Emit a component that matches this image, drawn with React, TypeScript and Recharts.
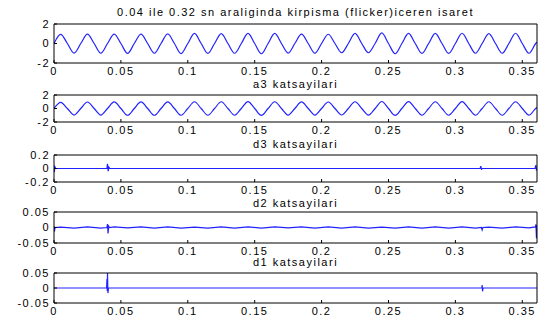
import { LineChart, Line, XAxis, YAxis } from 'recharts'

const FONT = '"Liberation Sans", Arial, sans-serif'
const BLUE = '#2222ff'
const W = 545
const H = 323
const PLOT_LEFT = 54
const PLOT_RIGHT = 537
const XAXIS_H = 22

// time axis (seconds)
const X_TICKS = [0, 0.05, 0.1, 0.15, 0.2, 0.25, 0.3, 0.35]
const X_MAX = 0.361
const PERIOD = 0.02 // 50 Hz carrier

// one peak + one trough per cycle
const SIG_PEAKS   = [0.93, 0.97, 0.97, 0.97, 0.98, 1.03, 1.02, 1.03, 1.03, 0.97, 0.95, 1.03, 1.08, 1.03, 1.03, 1.05, 1.02, 1.05]
const SIG_TROUGHS = [-0.98, -1.0, -1.02, -1.0, -1.03, -1.02, -1.0, -1.05, -0.98, -1.0, -0.95, -0.95, -1.05, -1.02, -1.02, -1.0, -1.0, -1.0]
const A3_PEAKS    = [0.92, 0.96, 0.97, 0.97, 0.98, 1.0, 1.0, 1.02, 1.0, 0.97, 0.96, 1.0, 1.04, 1.02, 1.0, 1.02, 1.0, 1.0]
const A3_TROUGHS  = [-0.97, -0.98, -1.0, -1.0, -1.0, -1.0, -1.0, -1.02, -0.98, -0.98, -0.96, -0.97, -1.02, -1.0, -1.0, -1.0, -1.0, -0.98]

// detail coefficients: flat line, spikes at the flicker edges (0.04 / 0.32) and the ends
const D3_SPIKES: [number, number][] = [
  [0, 0.05], [0.0003, -0.05], [0.0006, 0.03], [0.0012, 0],
  [0.0395, 0], [0.04, 0.07], [0.0405, -0.04], [0.041, 0.02], [0.0418, 0],
  [0.3185, 0], [0.319, 0.035], [0.3195, -0.01], [0.3202, 0],
  [0.3595, 0], [0.3602, 0.05], [0.3606, -0.03], [0.361, 0.01],
]
const D2_SPIKES: [number, number][] = [
  [0, 0.005], [0.0003, -0.013], [0.0008, 0],
  [0.0395, 0], [0.04, 0.011], [0.0404, -0.019], [0.0409, 0.004], [0.0415, 0],
  [0.3195, 0], [0.32, -0.008], [0.3206, 0],
  [0.3598, 0.002], [0.3602, 0.01], [0.3606, -0.035], [0.361, 0.008],
]
// small 50 Hz wobble in d2, one value per half cycle starting at 0.005
const D2_RIPPLE = [0.001, -0.002, 0.002, -0.002, 0.002, -0.001, 0.002, -0.002, 0.002, -0.002, 0.001, -0.002,
  0.002, -0.002, 0.002, -0.002, 0.002, -0.001, 0.002, -0.002, 0.002, -0.002, 0.002, -0.002,
  0.001, -0.002, 0.002, -0.002, 0.002, -0.002, 0.002, -0.002, 0.001, -0.002, 0.002, -0.001]
const D1_SPIKES: [number, number][] = [
  [0, 0], [0.0393, 0], [0.0396, 0.03], [0.0398, -0.01], [0.04, 0.05], [0.0403, -0.017], [0.0407, 0],
  [0.3198, 0], [0.32, 0.01], [0.3203, -0.011], [0.3207, 0], [0.361, 0],
]

type Row = { t: number; v: number }

function wave(peaks: number[], troughs: number[], tail: number): Row[] {
  const rows: Row[] = []
  peaks.forEach((p, k) => {
    const t0 = k * PERIOD
    rows.push({ t: t0, v: 0 }, { t: t0 + PERIOD / 4, v: p }, { t: t0 + PERIOD / 2, v: 0 }, { t: t0 + (3 * PERIOD) / 4, v: troughs[k] })
  })
  rows.push({ t: peaks.length * PERIOD, v: 0 }, { t: X_MAX, v: tail })
  return rows
}

function pairs(spikes: [number, number][], ripple: number[] = []): Row[] {
  const rows = spikes.map(([t, v]) => ({ t, v }))
  ripple.forEach((v, k) => rows.push({ t: PERIOD / 4 + (k * PERIOD) / 2, v }))
  return rows.sort((a, b) => a.t - b.t)
}

const sigData = wave(SIG_PEAKS, SIG_TROUGHS, 0.15)
const a3Data  = wave(A3_PEAKS, A3_TROUGHS, 0.15)
const d3Data  = pairs(D3_SPIKES)
const d2Data  = pairs(D2_SPIKES, D2_RIPPLE)
const d1Data  = pairs(D1_SPIKES)

// matlab's bitmap font is spread out, hence the letter spacing
const tickStyle = { fill: '#000', fontSize: 11, fontFamily: FONT, letterSpacing: 1.5 }

type PanelProps = {
  data: Row[]
  top: number
  bottom: number
  yTicks: number[]
  title: string
  titleY: number
  smooth?: boolean
}

function Panel({ data, top, bottom, yTicks, title, titleY, smooth }: PanelProps) {
  const yDomain: [number, number] = [yTicks[0], yTicks[yTicks.length - 1]]
  return (
    <>
      <div
        style={{
          position: 'absolute', left: PLOT_LEFT, width: PLOT_RIGHT - PLOT_LEFT, top: titleY - 5.5,
          textAlign: 'center', fontFamily: FONT, fontSize: 11, lineHeight: '11px', letterSpacing: 1.5,
          color: '#000', whiteSpace: 'nowrap',
        }}
      >
        {title}
      </div>
      <div style={{ position: 'absolute', left: 0, top: 0 }}>
        <LineChart
          width={W}
          height={H}
          data={data}
          margin={{ top: top - 1, right: W - PLOT_RIGHT - 1, bottom: H - bottom - XAXIS_H, left: 0 }}
        >
          <XAxis xAxisId="b" type="number" dataKey="t" domain={[0, X_MAX]} ticks={X_TICKS} interval={0}
            orientation="bottom" height={XAXIS_H} tickSize={-3} tickMargin={7}
            stroke="#000" tick={tickStyle} allowDataOverflow />
          <XAxis xAxisId="t" type="number" dataKey="t" domain={[0, X_MAX]} ticks={X_TICKS} interval={0}
            orientation="top" height={1} tickSize={-3} tick={false} stroke="#000" allowDataOverflow />
          <YAxis yAxisId="l" type="number" domain={yDomain} ticks={yTicks} interval={0}
            width={PLOT_LEFT} tickSize={-3} tickMargin={7} stroke="#000" tick={tickStyle} allowDataOverflow />
          <YAxis yAxisId="r" orientation="right" type="number" domain={yDomain} ticks={yTicks} interval={0}
            width={1} tickSize={-3} tick={false} stroke="#000" allowDataOverflow />
          <Line xAxisId="b" yAxisId="l" dataKey="v" type={smooth ? 'monotone' : 'linear'}
            stroke={BLUE} strokeWidth={1.2} dot={false} isAnimationActive={false} />
        </LineChart>
      </div>
    </>
  )
}

export default function App() {
  return (
    <div style={{ position: 'fixed', left: 0, top: 0, width: W, height: H, background: '#fff', overflow: 'hidden' }}>
      <Panel data={sigData} top={24} bottom={63} yTicks={[-2, 0, 2]} smooth
        title="0.04 ile 0.32 sn araliginda kirpisma (flicker)iceren isaret" titleY={12} />
      <Panel data={a3Data} top={95} bottom={122} yTicks={[-2, 0, 2]} smooth
        title="a3 katsayilari" titleY={84} />
      <Panel data={d3Data} top={155} bottom={182} yTicks={[-0.2, 0, 0.2]}
        title="d3 katsayilari" titleY={144} />
      <Panel data={d2Data} top={212} bottom={243} yTicks={[-0.05, 0, 0.05]}
        title="d2 katsayilari" titleY={203} />
      <Panel data={d1Data} top={273} bottom={303} yTicks={[-0.05, 0, 0.05]}
        title="d1 katsayilari" titleY={262} />
    </div>
  )
}
